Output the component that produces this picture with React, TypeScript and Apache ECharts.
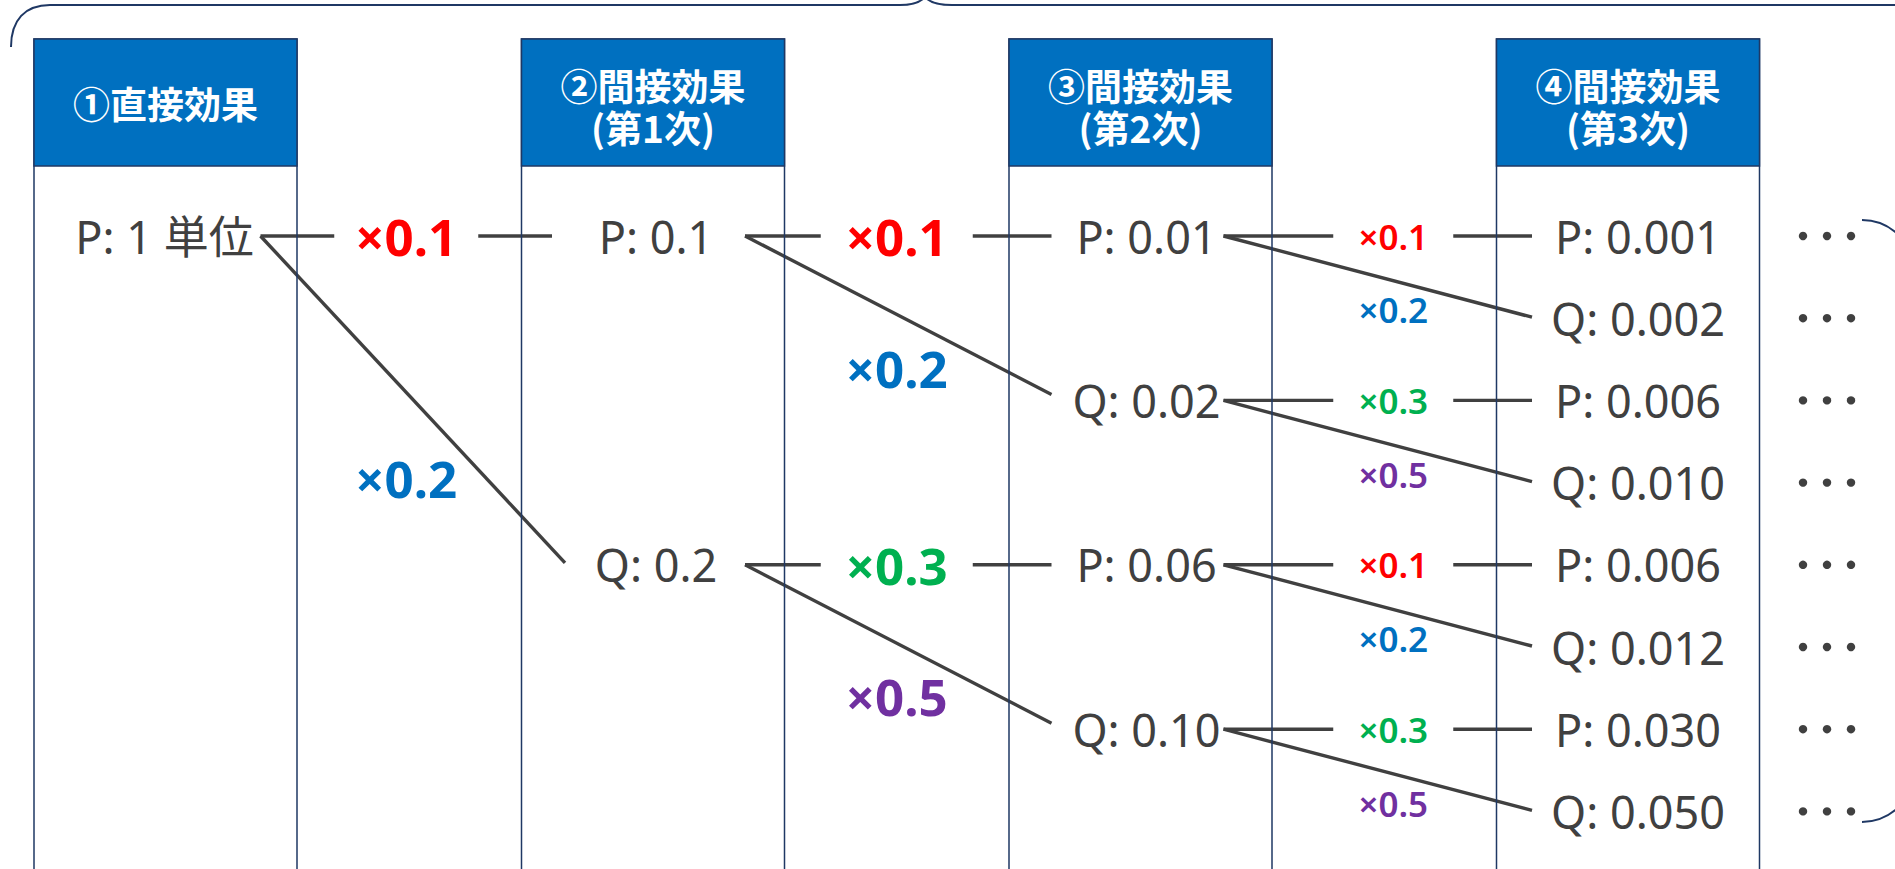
import React, { useEffect, useRef } from "react";
import * as echarts from "echarts";

// ---------- data ----------
const headerLines: string[][] = [
  ["①直接効果"],
  ["②間接効果", "(第1次)"],
  ["③間接効果", "(第2次)"],
  ["④間接効果", "(第3次)"],
];
const columnIndex = [0, 1, 2, 3];

const nodeCols = [0, 1, 1, 2, 2, 2, 2, 3, 3, 3, 3, 3, 3, 3, 3];
const nodeRows = [0, 0, 4, 0, 2, 4, 6, 0, 1, 2, 3, 4, 5, 6, 7];
const nodeLabels = [
  "P: 1 単位",
  "P: 0.1", "Q: 0.2",
  "P: 0.01", "Q: 0.02", "P: 0.06", "Q: 0.10",
  "P: 0.001", "Q: 0.002", "P: 0.006", "Q: 0.010",
  "P: 0.006", "Q: 0.012", "P: 0.030", "Q: 0.050",
];

const multiplierLabels = ["×0.1", "×0.2", "×0.3", "×0.5"];
const multiplierColors = ["#FF0000", "#0070C0", "#00B050", "#7030A0"];

const edgeFromCol = [0, 0, 1, 1, 1, 1, 2, 2, 2, 2, 2, 2, 2, 2];
const edgeFromRow = [0, 0, 0, 0, 4, 4, 0, 0, 2, 2, 4, 4, 6, 6];
const edgeToRow = [0, 4, 0, 2, 4, 6, 0, 1, 2, 3, 4, 5, 6, 7];
const edgeKind = [0, 1, 0, 1, 2, 3, 0, 1, 2, 3, 0, 1, 2, 3];

// ---------- layout / style ----------
const W = 1895;
const H = 869;
const COL0_PX = 165.5;
const COL_STEP = 487.5;
const ROW0_PX = 236;
const ROW_STEP = 82.2;

const NAVY = "#1F3864";
const HEADER_BLUE = "#0070C0";
const INK = "#404040";
const LATIN = "'Noto Sans', 'Noto Sans CJK JP', sans-serif";
const CJK = "'Noto Sans CJK JP', 'Noto Sans', sans-serif";

const COL_HALF = 131.5;
const HEADER_TOP = 39;
const HEADER_BOTTOM = 166;

const textOffset = [-1, 3, 6, 10];
const outOffset = [95, 92, 83];
const inOffset = [0, -101, -89, -96];
const diagInOffset = [0, -88, -89, -96];
const diagInDy = [0, -2, -6, -1];
const labelXOffset = [-3, 0, 9];
const labelGapHalf = [72, 76, 60];
const labelFont = [51, 51, 35];
const labelWeight: any[] = ["bold", "bold", 600];
const diagLabelFrac = [0.735, 0.8, 0.9];

export default function App() {
  const ref = useRef<HTMLDivElement>(null);

  useEffect(() => {
    if (!ref.current) return;
    const chart = echarts.init(ref.current, undefined, { renderer: "svg" });

    const xMin = -COL0_PX / COL_STEP;
    const xMax = (W - COL0_PX) / COL_STEP;
    const yMin = -ROW0_PX / ROW_STEP;
    const yMax = (H - ROW0_PX) / ROW_STEP;

    const columnSeries = {
      type: "custom",
      z: 3,
      data: columnIndex.map((c) => [c, 0]),
      renderItem: (params: any, api: any) => {
        const c = api.value(0) as number;
        const p = api.coord([c, 0]);
        const x0 = p[0] - COL_HALF;
        const lines = headerLines[c];
        const children: any[] = [
          {
            type: "rect",
            shape: { x: x0, y: HEADER_TOP, width: COL_HALF * 2, height: H + 40 - HEADER_TOP },
            style: { fill: "none", stroke: NAVY, lineWidth: 1.5 },
          },
          {
            type: "rect",
            shape: { x: x0, y: HEADER_TOP, width: COL_HALF * 2, height: HEADER_BOTTOM - HEADER_TOP },
            style: { fill: HEADER_BLUE, stroke: NAVY, lineWidth: 1.5 },
          },
        ];
        const ys = lines.length === 1 ? [103] : [85, 127];
        lines.forEach((t, i) => {
          children.push({
            type: "text",
            x: p[0],
            y: ys[i],
            style: {
              text: t,
              fill: "#FFFFFF",
              fontSize: 37,
              lineHeight: 38,
              fontWeight: "bold",
              fontFamily: CJK,
              align: "center",
              verticalAlign: "middle",
            },
          });
        });
        return { type: "group", children };
      },
    };

    const edgeSeries = {
      type: "custom",
      z: 2,
      data: edgeFromCol.map((c, i) => [c, edgeFromRow[i], edgeToRow[i], edgeKind[i]]),
      renderItem: (params: any, api: any) => {
        const fc = api.value(0) as number;
        const fr = api.value(1) as number;
        const tr = api.value(2) as number;
        const k = api.value(3) as number;
        const tc = fc + 1;
        const a = api.coord([fc, fr]);
        const b = api.coord([tc, tr]);
        const mid = api.coord([(fc + tc) / 2, fr]);
        const lx = mid[0] + labelXOffset[fc];
        const sx = a[0] + outOffset[fc];
        const lineStyle = { stroke: INK, lineWidth: 3.4 };
        const children: any[] = [];
        let ly: number;
        if (fr === tr) {
          ly = a[1];
          children.push({
            type: "line",
            shape: { x1: sx, y1: a[1], x2: lx - labelGapHalf[fc], y2: a[1] },
            style: lineStyle,
          });
          children.push({
            type: "line",
            shape: { x1: lx + labelGapHalf[fc], y1: a[1], x2: b[0] + inOffset[tc], y2: b[1] },
            style: lineStyle,
          });
        } else {
          children.push({
            type: "line",
            shape: { x1: sx, y1: a[1], x2: b[0] + diagInOffset[tc], y2: b[1] + diagInDy[tc] },
            style: lineStyle,
          });
          const lp = api.coord([(fc + tc) / 2, fr + diagLabelFrac[fc] * (tr - fr)]);
          ly = lp[1];
        }
        children.push({
          type: "text",
          x: lx,
          y: ly,
          style: {
            text: multiplierLabels[k],
            fill: multiplierColors[k],
            fontSize: labelFont[fc],
            fontWeight: labelWeight[fc],
            fontFamily: LATIN,
            align: "center",
            verticalAlign: "middle",
          },
        });
        return { type: "group", children };
      },
    };

    const nodeSeries = {
      type: "custom",
      z: 4,
      data: nodeCols.map((c, i) => [c, nodeRows[i], i]),
      renderItem: (params: any, api: any) => {
        const c = api.value(0) as number;
        const r = api.value(1) as number;
        const i = api.value(2) as number;
        const p = api.coord([c, r]);
        const children: any[] = [
          {
            type: "text",
            x: p[0] + textOffset[c],
            y: p[1],
            style: {
              text: nodeLabels[i],
              fill: INK,
              fontSize: 45,
              fontFamily: LATIN,
              align: "center",
              verticalAlign: "middle",
            },
          },
        ];
        if (c === columnIndex[columnIndex.length - 1]) {
          [175, 199, 223].forEach((dx) => {
            children.push({
              type: "circle",
              shape: { cx: p[0] + dx, cy: p[1], r: 4.2 },
              style: { fill: INK },
            });
          });
        }
        return { type: "group", children };
      },
    };

    const braceStyle = { stroke: NAVY, lineWidth: 2, fill: "none" };

    chart.setOption({
      animation: false,
      backgroundColor: "#FFFFFF",
      grid: { left: 0, right: 0, top: 0, bottom: 0, containLabel: false },
      xAxis: { type: "value", min: xMin, max: xMax, show: false },
      yAxis: { type: "value", min: yMin, max: yMax, inverse: true, show: false },
      graphic: [
        {
          type: "bezierCurve",
          shape: { x1: 11, y1: 47, cpx1: 11, cpy1: 20, cpx2: 25, cpy2: 5, x2: 50, y2: 5 },
          style: braceStyle,
        },
        { type: "line", shape: { x1: 50, y1: 5, x2: 900, y2: 5 }, style: braceStyle },
        {
          type: "bezierCurve",
          shape: { x1: 900, y1: 5, cpx1: 912, cpy1: 5, cpx2: 919, cpy2: 3, x2: 924, y2: -2 },
          style: braceStyle,
        },
        {
          type: "bezierCurve",
          shape: { x1: 926, y1: -2, cpx1: 931, cpy1: 3, cpx2: 938, cpy2: 5, x2: 952, y2: 5 },
          style: braceStyle,
        },
        { type: "line", shape: { x1: 952, y1: 5, x2: 1900, y2: 5 }, style: braceStyle },
        {
          type: "bezierCurve",
          shape: { x1: 1862, y1: 220, cpx1: 1880, cpy1: 220, cpx2: 1894, cpy2: 228, x2: 1905, y2: 242 },
          style: braceStyle,
        },
        {
          type: "bezierCurve",
          shape: { x1: 1862, y1: 822, cpx1: 1880, cpy1: 822, cpx2: 1894, cpy2: 814, x2: 1905, y2: 800 },
          style: braceStyle,
        },
      ],
      series: [edgeSeries, columnSeries, nodeSeries],
    });

    return () => chart.dispose();
  }, []);

  return (
    <div
      ref={ref}
      style={{ position: "fixed", left: 0, top: 0, width: W, height: H, background: "#FFFFFF" }}
    />
  );
}
